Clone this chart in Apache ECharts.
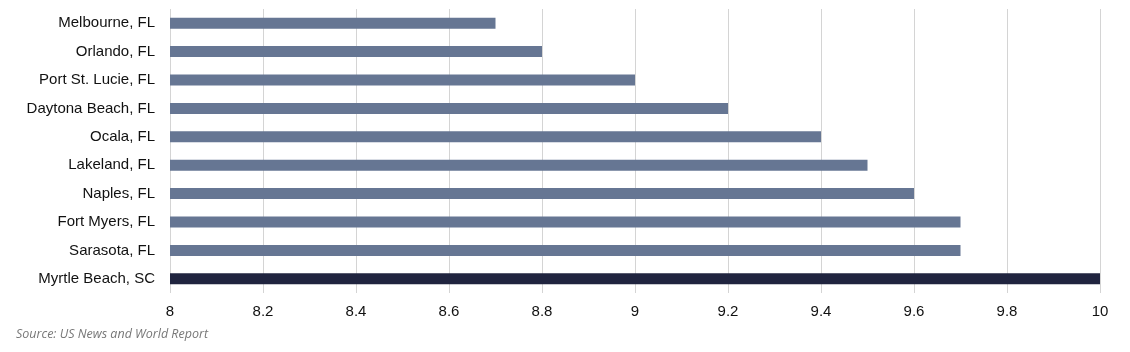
<!DOCTYPE html>
<html>
<head>
<meta charset="utf-8">
<script src="https://cdn.jsdelivr.net/npm/echarts@6/dist/echarts.min.js"></script>
<style>
  html, body { margin: 0; padding: 0; background: #fff; }
  #chart { width: 1130px; height: 352px; }
</style>
</head>
<body>
<div id="chart"></div>
<script>
// top to bottom, as in the picture
const cities = ['Melbourne, FL', 'Orlando, FL', 'Port St. Lucie, FL', 'Daytona Beach, FL', 'Ocala, FL',
  'Lakeland, FL', 'Naples, FL', 'Fort Myers, FL', 'Sarasota, FL', 'Myrtle Beach, SC']
const scores = [8.7, 8.8, 9.0, 9.2, 9.4, 9.5, 9.6, 9.7, 9.7, 10]
const highlight = 'Myrtle Beach, SC'

const myChart = echarts.init(document.getElementById('chart'))

const option = {
  animation: false,
  grid: {
    left: 170,
    right: 30,
    top: 9,
    bottom: 59,
  },
  xAxis: {
    type: 'value',
    min: 8,
    max: 10,
    interval: 0.2,
    axisLine: { show: false },
    axisTick: { show: false },
    axisLabel: {
      color: '#111',
      fontFamily: 'Liberation Sans, Arial, sans-serif',
      fontSize: 15,
      margin: 11,
      formatter: (v) => String(Math.round(v * 10) / 10),
    },
    splitLine: { lineStyle: { color: '#d4d4d4', width: 1 } },
  },
  yAxis: {
    type: 'category',
    inverse: true,
    data: cities,
    axisLine: { show: false },
    axisTick: { show: false },
    axisLabel: {
      color: '#111',
      fontFamily: 'Liberation Sans, Arial, sans-serif',
      fontSize: 15,
      margin: 15,
    },
  },
  series: [
    {
      type: 'bar',
      barWidth: 11,
      data: scores.map((v, i) => ({
        value: v,
        itemStyle: { color: cities[i] === highlight ? '#20243f' : '#667693' },
      })),
    },
  ],
  graphic: [
    {
      type: 'text',
      left: 16,
      top: 328,
      style: {
        text: 'Source: US News and World Report',
        fill: '#777',
        font: 'italic 12.5px "Open Sans", sans-serif',
      },
    },
  ],
}

myChart.setOption(option)
</script>
</body>
</html>
